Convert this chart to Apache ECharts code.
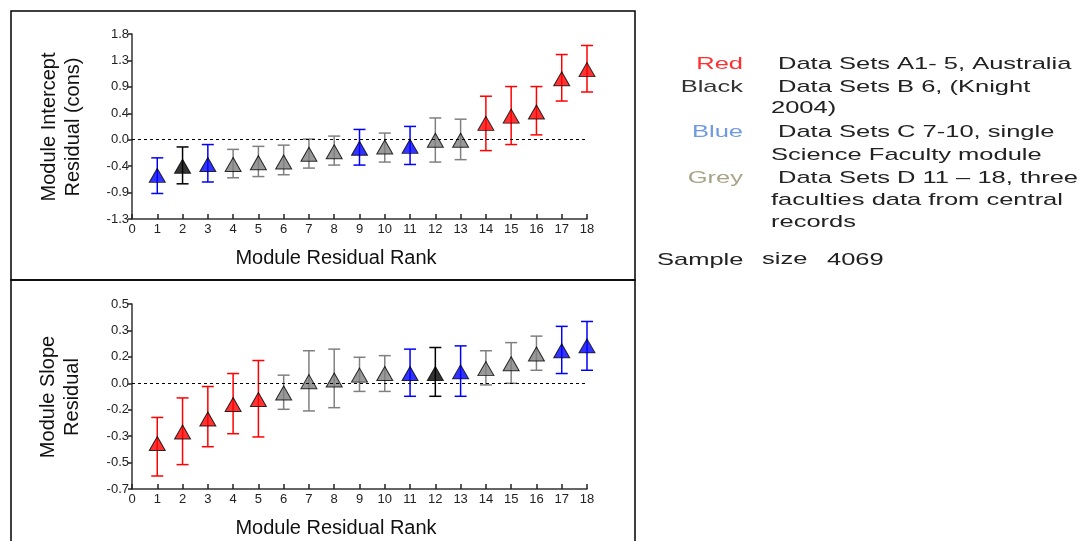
<!DOCTYPE html>
<html>
<head>
<meta charset="utf-8">
<script src="https://cdn.jsdelivr.net/npm/echarts@6/dist/echarts.min.js"></script>
<style>
  html, body { margin: 0; padding: 0; background: #fff; }
  #chart { width: 1084px; height: 541px; }
</style>
</head>
<body>
<div id="chart"></div>
<script>
// module rank on x axis
const rank = [1, 2, 3, 4, 5, 6, 7, 8, 9, 10, 11, 12, 13, 14, 15, 16, 17, 18]

// intercept residuals (top panel)
const interceptValue = [-0.59, -0.44, -0.41, -0.41, -0.38, -0.37, -0.24, -0.20, -0.14, -0.12, -0.11, -0.01, -0.01, 0.27, 0.39, 0.46, 1.01, 1.16]
const interceptHigh = [-0.30, -0.12, -0.08, -0.16, -0.11, -0.09, 0.01, 0.06, 0.17, 0.11, 0.22, 0.36, 0.34, 0.72, 0.88, 0.88, 1.41, 1.56]
const interceptLow = [-0.89, -0.73, -0.70, -0.63, -0.61, -0.58, -0.47, -0.42, -0.42, -0.37, -0.41, -0.37, -0.33, -0.18, -0.08, 0.08, 0.64, 0.79]
const interceptGroup = ['C', 'B', 'C', 'D', 'D', 'D', 'D', 'D', 'C', 'D', 'C', 'D', 'D', 'A', 'A', 'A', 'A', 'A']

// slope residuals (bottom panel)
const slopeValue = [-0.37, -0.30, -0.22, -0.13, -0.10, -0.06, 0.01, 0.02, 0.05, 0.06, 0.06, 0.06, 0.07, 0.09, 0.12, 0.18, 0.20, 0.23]
const slopeHigh = [-0.21, -0.09, -0.02, 0.06, 0.14, 0.05, 0.20, 0.21, 0.16, 0.17, 0.21, 0.22, 0.23, 0.20, 0.25, 0.29, 0.35, 0.38]
const slopeLow = [-0.57, -0.50, -0.39, -0.31, -0.33, -0.16, -0.17, -0.15, -0.05, -0.05, -0.08, -0.08, -0.08, -0.01, 0.00, 0.08, 0.06, 0.08]
const slopeGroup = ['A', 'A', 'A', 'A', 'A', 'D', 'D', 'D', 'D', 'D', 'C', 'B', 'C', 'D', 'D', 'D', 'C', 'C']

// y axis tick settings (labels rounded to 1 decimal like the original)
const interceptTicks = { min: -1.3125, max: 1.75, interval: 0.4375 }
const slopeTicks = { min: -0.65, max: 0.4875, interval: 0.1625 }

const groupColor = { A: '#ff0000', B: '#000000', C: '#0000ff', D: '#808080' }

const chart = echarts.init(document.getElementById('chart'))

const fmt = (v) => {
  const s = v.toFixed(1)
  return s === '-0.0' ? '0.0' : s
}

const axisX = (gridIndex) => ({
  gridIndex,
  type: 'value',
  min: 0,
  max: 18,
  interval: 1,
  axisLine: { onZero: false, lineStyle: { color: '#333', width: 1.5 } },
  axisTick: { inside: true, length: 5, lineStyle: { color: '#222', width: 1.5 } },
  axisLabel: { color: '#222', fontSize: 13, fontFamily: 'Liberation Sans', margin: 4 },
  splitLine: { show: false }
})

const axisY = (gridIndex, t) => ({
  gridIndex,
  type: 'value',
  min: t.min,
  max: t.max,
  interval: t.interval,
  axisLine: { show: true, lineStyle: { color: '#333', width: 1.5 } },
  axisTick: { show: true, length: 4, lineStyle: { color: '#222', width: 1.5 } },
  axisLabel: { color: '#222', fontSize: 13, fontFamily: 'Liberation Sans', margin: 3, formatter: fmt },
  splitLine: { show: false }
})

// error bars with caps
const errorSeries = (idx, low, high, group) => ({
  type: 'custom',
  xAxisIndex: idx,
  yAxisIndex: idx,
  silent: true,
  z: 2,
  data: rank.map((r, i) => [r, low[i], high[i]]),
  renderItem: (params, api) => {
    const x = api.value(0)
    const lo = api.coord([x, api.value(1)])
    const hi = api.coord([x, api.value(2)])
    const color = groupColor[group[params.dataIndex]]
    const w = 6
    const style = { stroke: color, lineWidth: 1.5 }
    return {
      type: 'group',
      children: [
        { type: 'line', shape: { x1: hi[0], y1: hi[1], x2: lo[0], y2: lo[1] }, style },
        { type: 'line', shape: { x1: hi[0] - w, y1: hi[1], x2: hi[0] + w, y2: hi[1] }, style },
        { type: 'line', shape: { x1: lo[0] - w, y1: lo[1], x2: lo[0] + w, y2: lo[1] }, style }
      ]
    }
  }
})

const markerSeries = (idx, values, group) => ({
  type: 'scatter',
  xAxisIndex: idx,
  yAxisIndex: idx,
  symbol: 'triangle',
  symbolSize: [16, 14],
  z: 3,
  data: rank.map((r, i) => ({
    value: [r, values[i]],
    itemStyle: { color: groupColor[group[i]], borderColor: '#000', borderWidth: 1 }
  })),
  markLine: {
    silent: true,
    symbol: 'none',
    label: { show: false },
    lineStyle: { color: '#000', type: [3, 3], width: 1 },
    data: [[{ coord: [0, 0] }, { coord: [18, 0] }]]
  }
})

const titleFont = { fontSize: 20, fontFamily: 'Liberation Sans', fill: '#111' }
const legendFont = { fontSize: 17, fontFamily: 'Liberation Sans', fill: '#222' }

// one line of the colour key, stretched wide like the original
const keyText = (x, y, text, extra) => ({
  type: 'text',
  x,
  y,
  scaleX: 1.5,
  style: Object.assign({ text, verticalAlign: 'middle' }, legendFont, extra || {})
})

const option = {
  animation: false,
  grid: [
    { left: 132, top: 34, width: 455, height: 185 },
    { left: 132, top: 304, width: 455, height: 185 }
  ],
  xAxis: [axisX(0), axisX(1)],
  yAxis: [axisY(0, interceptTicks), axisY(1, slopeTicks)],
  series: [
    errorSeries(0, interceptLow, interceptHigh, interceptGroup),
    markerSeries(0, interceptValue, interceptGroup),
    errorSeries(1, slopeLow, slopeHigh, slopeGroup),
    markerSeries(1, slopeValue, slopeGroup)
  ],
  graphic: [
    // panel frames
    { type: 'rect', shape: { x: 11, y: 11, width: 624, height: 269 }, style: { fill: 'none', stroke: '#000', lineWidth: 1.5 } },
    { type: 'polyline', shape: { points: [[11, 545], [11, 280], [635, 280], [635, 545]] }, style: { fill: 'none', stroke: '#000', lineWidth: 1.5 } },
    // axis titles
    { type: 'text', x: 336, y: 258, style: Object.assign({ text: 'Module Residual Rank', align: 'center', verticalAlign: 'middle' }, titleFont) },
    { type: 'text', x: 336, y: 528, style: Object.assign({ text: 'Module Residual Rank', align: 'center', verticalAlign: 'middle' }, titleFont) },
    { type: 'text', x: 61, y: 127, rotation: Math.PI / 2, style: Object.assign({ text: 'Module Intercept\nResidual (cons)', align: 'center', verticalAlign: 'middle', lineHeight: 24 }, titleFont) },
    { type: 'text', x: 60, y: 397, rotation: Math.PI / 2, style: Object.assign({ text: 'Module Slope\nResidual', align: 'center', verticalAlign: 'middle', lineHeight: 24 }, titleFont) },
    // colour key
    keyText(743, 64, 'Red', { align: 'right', fill: '#ff3030' }),
    keyText(743, 87, 'Black', { align: 'right', fill: '#333' }),
    keyText(743, 132, 'Blue', { align: 'right', fill: '#6f9be0' }),
    keyText(743, 178, 'Grey', { align: 'right', fill: '#a8a286' }),
    keyText(778, 64, 'Data Sets A1- 5, Australia'),
    keyText(778, 87, 'Data Sets B 6, (Knight'),
    keyText(771, 108, '2004)'),
    keyText(778, 132, 'Data Sets C 7-10, single'),
    keyText(771, 155, 'Science Faculty module'),
    keyText(778, 178, 'Data Sets D 11 \u2013 18, three'),
    keyText(771, 200, 'faculties data from central'),
    keyText(771, 222, 'records'),
    keyText(657, 260, 'Sample'),
    keyText(762, 259, 'size'),
    keyText(827, 260, '4069')
  ]
}

chart.setOption(option)
</script>
</body>
</html>
